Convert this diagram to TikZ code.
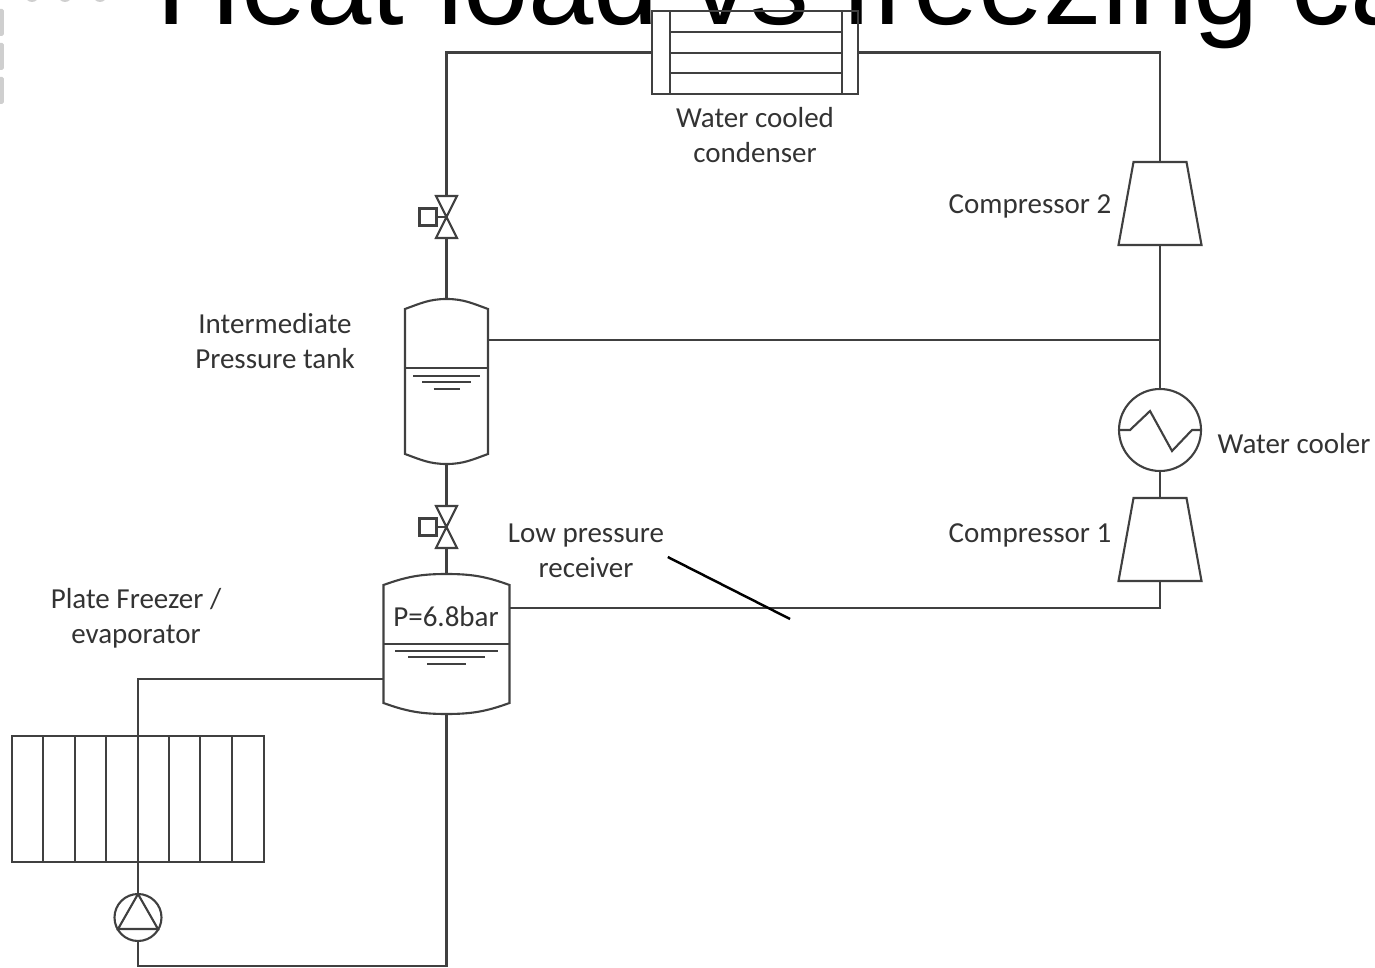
\documentclass[tikz,border=0pt]{standalone}
\usepackage{fontspec}
\setmainfont{Carlito}
\newfontfamily\headfont{Liberation Sans}
\usepackage{xcolor}
\usetikzlibrary{positioning,shapes.geometric,calc}

\definecolor{pipegray}{HTML}{404040}
\definecolor{tabgray}{HTML}{CFCFCF}

\begin{document}
\begin{tikzpicture}[
    pipe/.style={
        draw=pipegray,
        line width=0.6pt
    },
    vessel/.style={
        rectangle,
        inner sep=0pt,
        outer sep=0pt,
        minimum width=#1
    },
    valve/.style={
        rectangle,
        inner sep=0pt,
        outer sep=0pt,
        minimum width=0.21cm,
        minimum height=0.42cm
    },
    actuator/.style={
        rectangle,
        pipe,
        inner sep=0pt,
        outer sep=0pt,
        minimum size=0.17cm
    },
    compressor/.style={
        rectangle,
        inner sep=0pt,
        outer sep=0pt,
        minimum size=0.83cm
    },
    tag/.style={
        align=center,
        text=black!80,
        inner sep=0pt,
        font=\fontsize{8.25}{9.96}\selectfont
    },
    leader/.style={
        draw=black,
        line width=0.7pt
    }
]

\useasboundingbox (0,0) rectangle (13.75,9.67);
\clip (0,0) rectangle (13.75,9.67);

% ---------------- HEADING ----------------

\node[anchor=base west, inner sep=0pt, font=\headfont\fontsize{33.4}{36}\selectfont]
    (heading) at (1.56,9.42) {Heat load vs freezing ca};

\foreach \ytab in {9.58,9.24,8.90}
    \fill[tabgray, rounded corners=0.5pt] (-0.05,\ytab) rectangle (0.04,\ytab-0.27);
\foreach \xtab in {0.32,0.65,1.00}
    \fill[tabgray] (\xtab,9.72) circle (0.07);

% ---------------- EQUIPMENT ----------------

\node[rectangle, pipe, inner sep=0pt, outer sep=0pt, minimum width=2.06cm, minimum height=0.83cm]
    (cond) at (7.55,9.145) {};

\node[vessel=0.83cm, minimum height=1.65cm] (tank) at (4.465,5.855) {};

\node[valve, above=0.61cm of tank] (upvalve) {};
\node[valve, below=0.42cm of tank] (lowvalve) {};

\node[vessel=1.26cm, minimum height=1.40cm, below=0.26cm of lowvalve] (recv) {};

\node[circle, pipe, inner sep=0pt, outer sep=0pt, minimum size=0.82cm]
    (cooler) at (11.60,5.37) {};

\node[compressor, above=1.44cm of cooler] (comp2) {};
\node[compressor, below=0.27cm of cooler] (comp1) {};

\node[rectangle, pipe, inner sep=0pt, outer sep=0pt, minimum width=2.52cm, minimum height=1.26cm]
    (freezer) at (1.38,1.68) {};

\node[circle, pipe, inner sep=0pt, outer sep=0pt, minimum size=0.47cm, below=0.32cm of freezer]
    (pump) {};

\node[actuator, left=0.10cm of upvalve.center] (upact) {};
\node[actuator, left=0.10cm of lowvalve.center] (lowact) {};

% condenser tubes
\foreach \xpos in {-0.85,0.87}
    \draw[pipe] ($(cond.north)+(\xpos,0)$) -- ($(cond.south)+(\xpos,0)$);
\foreach \ypos in {-0.21,-0.42,-0.62}
    \draw[pipe] ($(cond.north west)+(0.18,\ypos)$) -- ($(cond.north east)+(-0.16,\ypos)$);

% compressor bodies
\foreach \unit in {comp1,comp2}
    \draw[pipe] ($(\unit.north west)+(0.15,0)$) -- ($(\unit.north east)+(-0.15,0)$)
        -- (\unit.south east) -- (\unit.south west) -- cycle;

% vessels
\foreach \unit/\dome in {tank/0.10,recv/0.11}
    \draw[pipe]
        ([yshift=-\dome cm]\unit.north west) to[out=20,in=180] (\unit.north)
        to[out=0,in=160] ([yshift=-\dome cm]\unit.north east)
        -- ([yshift=\dome cm]\unit.south east) to[out=-160,in=0] (\unit.south)
        to[out=180,in=-20] ([yshift=\dome cm]\unit.south west) -- cycle;

\coordinate (tanklevel) at ($(tank.north)+(0,-0.69)$);
\draw[pipe] (tanklevel -| tank.west) -- (tanklevel -| tank.east);
\foreach \ypos/\half in {-0.08/0.335,-0.14/0.245,-0.21/0.13}
    \draw[pipe] ($(tanklevel)+(-\half,\ypos)$) -- ($(tanklevel)+(\half,\ypos)$);

\coordinate (recvlevel) at ($(recv.north)+(0,-0.70)$);
\draw[pipe] (recvlevel -| recv.west) -- (recvlevel -| recv.east);
\foreach \ypos/\half in {-0.07/0.515,-0.13/0.385,-0.20/0.195}
    \draw[pipe] ($(recvlevel)+(-\half,\ypos)$) -- ($(recvlevel)+(\half,\ypos)$);

% valves
\foreach \unit in {upvalve,lowvalve}
    \draw[pipe] (\unit.north west) -- (\unit.south east) -- (\unit.south west)
        -- (\unit.north east) -- cycle;
\draw[pipe] (upact) -- (upvalve.center);
\draw[pipe] (lowact) -- (lowvalve.center);

% water cooler coil
\draw[pipe] (cooler.west) -- ++(0.11,0) -- ++(0.20,0.19) -- ++(0.22,-0.40)
    -- ++(0.20,0.21) -- (cooler.east);

% freezer plates
\foreach \xpos in {-0.95,-0.63,-0.32,0.31,0.62,0.94}
    \draw[pipe] ($(freezer.north)+(\xpos,0)$) -- ($(freezer.south)+(\xpos,0)$);

% pump triangle
\draw[pipe] (pump.north) -- ($(pump.south)+(-0.20,0.12)$) -- ($(pump.south)+(0.20,0.12)$) -- cycle;

% ---------------- PIPES ----------------

\coordinate (tankout) at ([yshift=0.415cm]tank.east);
\coordinate (recvout) at ([yshift=0.36cm]recv.east);
\coordinate (recvin) at ([yshift=-0.35cm]recv.west);

\draw[pipe] (cond.west) -| (upvalve.north);
\draw[pipe] (cond.east) -| (comp2.north);
\draw[pipe] (upvalve.south) -- (tank.north);
\draw[pipe] (tank.south) -- (lowvalve.north);
\draw[pipe] (lowvalve.south) -- (recv.north);
\draw[pipe] (comp2.south) -- (cooler.north);
\draw[pipe] (tankout) -- (tankout -| cooler.north);
\draw[pipe] (cooler.south) -- (comp1.north);
\draw[pipe] (comp1.south) |- (recvout);
\draw[pipe] (recvin) -| (freezer.north);
\draw[pipe] (freezer.north) -- (pump.north);
\draw[pipe] (pump.south) -- ++(0,-0.25) -| (recv.south);

% ---------------- LABELS ----------------

\node[tag] (condtag) at (7.55,8.32) {Water cooled\\condenser};
\node[tag] (comp2tag) at (10.30,7.61) {Compressor 2};
\node[tag] (comp1tag) at (10.30,4.32) {Compressor 1};
\node[tag] (coolertag) at (12.94,5.23) {Water cooler};
\node[tag] (tanktag) at (2.75,6.26) {Intermediate\\Pressure tank};
\node[tag] (lowtag) at (5.86,4.16) {Low pressure\\receiver};
\node[tag] (freezertag) at (1.36,3.49) {Plate Freezer /\\evaporator};
\node[tag] (recvtag) at (4.46,3.50) {P=6.8bar};

\coordinate (leaderend) at (7.90,3.48);
\draw[leader] ([shift={(0.03,-0.06)}]lowtag.east) -- (leaderend);

\end{tikzpicture}
\end{document}
